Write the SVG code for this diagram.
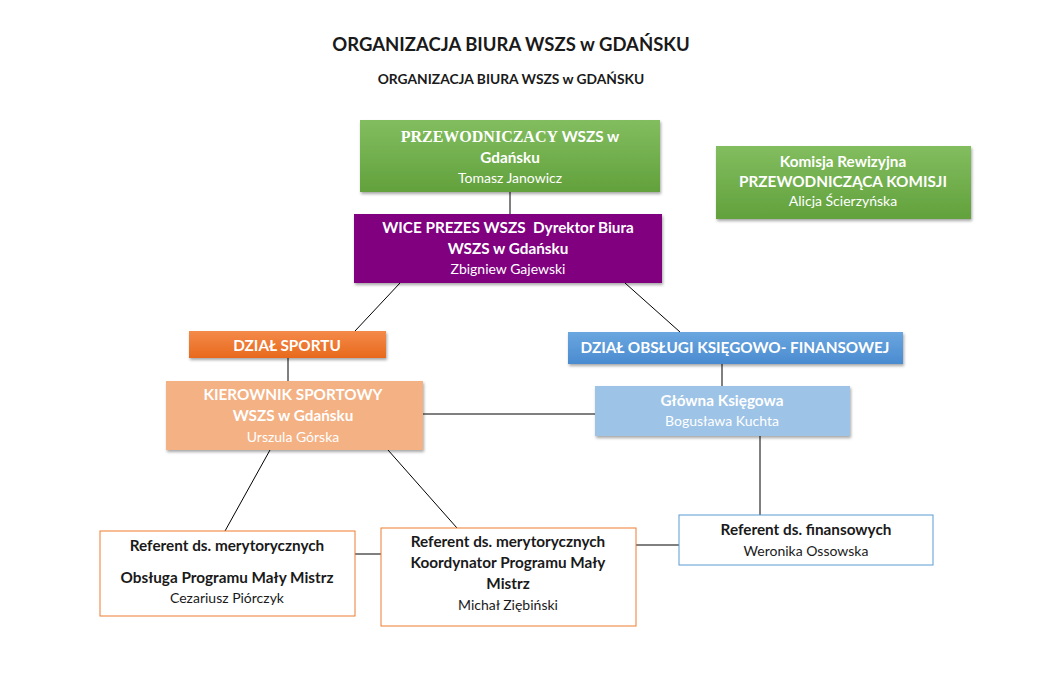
<svg xmlns="http://www.w3.org/2000/svg" width="1044" height="681" viewBox="0 0 1044 681">
<defs>
<linearGradient id="gGreen" x1="0" y1="0" x2="0" y2="1"><stop offset="0" stop-color="#82bd5f"/><stop offset="1" stop-color="#62a13c"/></linearGradient>
<linearGradient id="gOrange" x1="0" y1="0" x2="0" y2="1"><stop offset="0" stop-color="#f48a4a"/><stop offset="1" stop-color="#e8691c"/></linearGradient>
<linearGradient id="gBlue" x1="0" y1="0" x2="0" y2="1"><stop offset="0" stop-color="#6aa6e0"/><stop offset="1" stop-color="#4a8bd0"/></linearGradient>
<filter id="sh" x="-10%" y="-20%" width="120%" height="150%"><feDropShadow dx="1" dy="2" stdDeviation="1.5" flood-color="#000" flood-opacity="0.35"/></filter>
<style>
text{font-family:Lato,"Open Sans","Liberation Sans",sans-serif;text-anchor:middle;font-size:14px}
.w{fill:#ffffff}
.k{fill:#1a1a1a}
.b{font-weight:bold;font-size:15.3px}
.ser{font-family:"Liberation Serif","DejaVu Serif",serif;font-weight:bold;font-size:16px}
.line{stroke:#000;stroke-width:1;fill:none}
</style>
</defs>
<rect width="1044" height="681" fill="#ffffff"/>
<text x="511" y="51" class="k" style="font-size:18.5px;font-weight:bold">ORGANIZACJA BIURA WSZS w GDAŃSKU</text>
<text x="511" y="84" class="k" style="font-size:13.8px;font-weight:bold">ORGANIZACJA BIURA WSZS w GDAŃSKU</text>
<g id="connectors">
<line class="line" x1="510" y1="192" x2="510" y2="214"/>
<line class="line" x1="400" y1="283" x2="355" y2="331"/>
<line class="line" x1="625" y1="283" x2="680" y2="332"/>
<line class="line" x1="288" y1="358" x2="288" y2="381"/>
<line class="line" x1="722" y1="364" x2="722" y2="386"/>
<line class="line" x1="423" y1="414" x2="595" y2="414"/>
<line class="line" x1="270" y1="450" x2="225" y2="531"/>
<line class="line" x1="388" y1="450" x2="457" y2="528"/>
<line class="line" x1="760" y1="436" x2="760" y2="515"/>
<line class="line" x1="355" y1="554" x2="381" y2="554"/>
<line class="line" x1="636" y1="545" x2="679" y2="545"/>
</g>
<g id="przewodniczacy">
<rect x="360" y="120" width="300" height="72" fill="url(#gGreen)" filter="url(#sh)"/>
<text x="510" y="142" class="w"><tspan class="ser">PRZEWODNICZACY</tspan><tspan class="b"> WSZS w</tspan></text>
<text x="510" y="163" class="w b">Gdańsku</text>
<text x="510" y="183" class="w">Tomasz Janowicz</text>
</g>
<g id="komisja">
<rect x="716" y="146" width="255" height="73" fill="url(#gGreen)" filter="url(#sh)"/>
<text x="843" y="167" class="w b">Komisja Rewizyjna</text>
<text x="843" y="187" class="w b">PRZEWODNICZĄCA KOMISJI</text>
<text x="843" y="206" class="w">Alicja Ścierzyńska</text>
</g>
<g id="wiceprezes">
<rect x="354" y="214" width="308" height="69" fill="#800080" filter="url(#sh)"/>
<text x="508" y="233" class="w b" xml:space="preserve">WICE PREZES WSZS  Dyrektor Biura</text>
<text x="508" y="254" class="w b">WSZS w Gdańsku</text>
<text x="508" y="274" class="w">Zbigniew Gajewski</text>
</g>
<g id="dzial-sportu">
<rect x="189" y="331" width="197" height="27" fill="url(#gOrange)" filter="url(#sh)"/>
<text x="287" y="351" class="w b">DZIAŁ SPORTU</text>
</g>
<g id="dzial-ksiegowy">
<rect x="568" y="332" width="335" height="32" fill="url(#gBlue)" filter="url(#sh)"/>
<text x="735" y="353" class="w b">DZIAŁ OBSŁUGI KSIĘGOWO- FINANSOWEJ</text>
</g>
<g id="kierownik">
<rect x="166" y="381" width="257" height="69" fill="#f4b183" filter="url(#sh)"/>
<text x="293" y="400" class="w b">KIEROWNIK SPORTOWY</text>
<text x="293" y="421" class="w b">WSZS w Gdańsku</text>
<text x="293" y="442" class="w">Urszula Górska</text>
</g>
<g id="glowna">
<rect x="595" y="386" width="255" height="50" fill="#9dc3e6" filter="url(#sh)"/>
<text x="722" y="406" class="w b">Główna Księgowa</text>
<text x="722" y="426" class="w">Bogusława Kuchta</text>
</g>
<g id="referent1">
<rect x="100" y="531" width="255" height="85" fill="#ffffff" stroke="#ed7d31" stroke-width="1"/>
<text x="227" y="551" class="k b">Referent ds. merytorycznych</text>
<text x="227" y="583" class="k b">Obsługa Programu Mały Mistrz</text>
<text x="227" y="603" class="k">Cezariusz Piórczyk</text>
</g>
<g id="referent2">
<rect x="381" y="528" width="255" height="98" fill="#ffffff" stroke="#ed7d31" stroke-width="1"/>
<text x="508" y="547" class="k b">Referent ds. merytorycznych</text>
<text x="508" y="568" class="k b">Koordynator Programu Mały</text>
<text x="508" y="589" class="k b">Mistrz</text>
<text x="508" y="610" class="k">Michał Ziębiński</text>
</g>
<g id="referent-fin">
<rect x="679" y="515" width="254" height="50" fill="#ffffff" stroke="#5b9bd5" stroke-width="1"/>
<text x="806" y="535" class="k b">Referent ds. finansowych</text>
<text x="806" y="556" class="k">Weronika Ossowska</text>
</g>
</svg>
